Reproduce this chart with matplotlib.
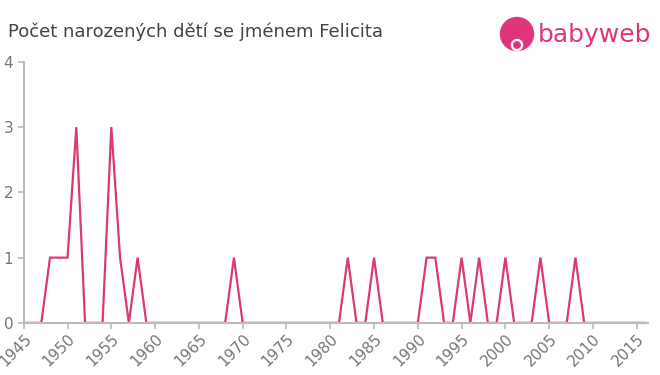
import matplotlib.pyplot as plt
from matplotlib.patches import Circle

years = list(range(1945, 2017))
counts = [0] * len(years)
nonzero = {1948: 1, 1949: 1, 1950: 1, 1951: 3, 1955: 3, 1956: 1, 1958: 1,
           1969: 1, 1982: 1, 1985: 1, 1991: 1, 1992: 1, 1995: 1, 1997: 1,
           2000: 1, 2004: 1, 2008: 1}
for y, c in nonzero.items():
    counts[years.index(y)] = c

xticks = list(range(1945, 2016, 5))
yticks = [0, 1, 2, 3, 4]
title = 'Počet narozených dětí se jménem Felicita'

fig = plt.figure(figsize=(6.6, 3.75), dpi=100)
ax = fig.add_axes([0.036, 0.139, 0.946, 0.696])

ax.plot(years, counts, color='#dc3a6e', lw=1.6, solid_joinstyle='miter')

ax.set_xlim(1945, 2016.3)
ax.set_ylim(0, 4)
ax.set_xticks(xticks)
ax.set_yticks(yticks)
ax.set_xticklabels([str(t) for t in xticks], rotation=45, ha='right', rotation_mode='anchor')

for s in ['top', 'right']:
    ax.spines[s].set_visible(False)
for s in ['left', 'bottom']:
    ax.spines[s].set_color('#bbbbbb')
    ax.spines[s].set_linewidth(1.5)
ax.tick_params(colors='#bbbbbb', labelcolor='#777777', labelsize=11, length=4, width=1.2)
ax.tick_params(axis='x', pad=2)

fig.text(0.012, 0.915, title, fontsize=13, color='#444444', ha='left', va='center')

# logo
logo_color = '#e0357a'
tr = fig.dpi_scale_trans
fig.patches.append(Circle((5.17, 3.41), 0.165, transform=tr, color=logo_color, figure=fig))
fig.patches.append(Circle((5.17, 3.30), 0.055, transform=tr, color='white', figure=fig))
fig.patches.append(Circle((5.17, 3.30), 0.032, transform=tr, color=logo_color, figure=fig))
fig.text(0.815, 0.907, 'babyweb', fontsize=18, color=logo_color, ha='left', va='center')

fig.savefig('out.png', dpi=100)
